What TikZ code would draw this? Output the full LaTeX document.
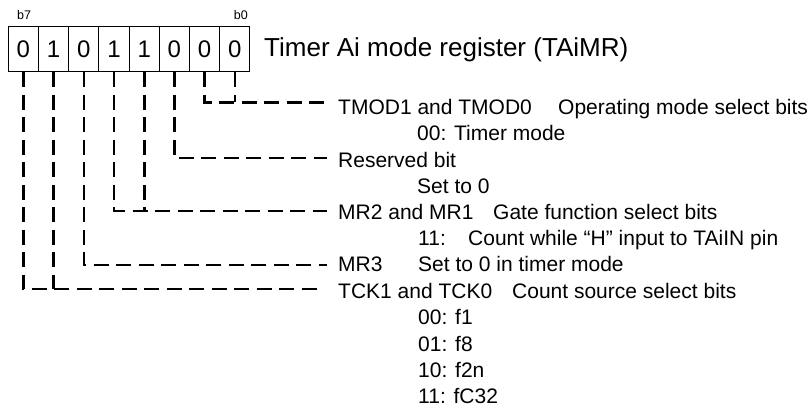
\documentclass[tikz,border=0pt]{standalone}
\usepackage{fontspec}
\setmainfont{Liberation Sans}
\begin{document}
\begin{tikzpicture}[x=1pt,y=-1pt,
  cell/.style={draw,line width=1pt,minimum width=30.2pt,minimum height=45pt,inner sep=0pt,
    font=\fontsize{24}{24}\selectfont},
  desc/.style={anchor=base west,inner sep=0pt,font=\fontsize{21}{21}\selectfont},
  bitlbl/.style={inner sep=0pt,font=\fontsize{12.5}{12.5}\selectfont},
  dl/.style={line width=2.6pt,dash pattern=on 15pt off 7.5pt}]
\useasboundingbox (0,0) rectangle (812,409);
\foreach \i/\v in {7/0,6/1,5/0,4/1,3/1,2/0,1/0,0/0} {
  \node[cell] (c\i) at ({8.3+(7-\i+0.5)*30.2},49.2) {\v};
}
\node[bitlbl,anchor=base west] (b7) at (17,19.5) {b7};
\node[bitlbl,anchor=base east] (b0) at (248,19.5) {b0};
\node[anchor=base west,inner sep=0pt,font=\fontsize{26}{26}\selectfont] (title) at (264,57) {Timer Ai mode register (TAiMR)};

% descriptions
\node[desc] (tmod) at (338,115) {TMOD1 and TMOD0};
\node[desc] (tmodd) at (558,115) {Operating mode select bits};
\node[desc] (tmodv) at (417,141) {00: Timer mode};
\node[desc] (res) at (338,167.5) {Reserved bit};
\node[desc] (resv) at (417,193.5) {Set to 0};
\node[desc] (mr) at (338,219.5) {MR2 and MR1};
\node[desc] (mrd) at (493,219.5) {Gate function select bits};
\node[desc] (mrv) at (418,246) {11:};
\node[desc] (mrvd) at (468,246) {Count while “H” input to TAiIN pin};
\node[desc] (mr3) at (338,272) {MR3};
\node[desc] (mr3d) at (418,272) {Set to 0 in timer mode};
\node[desc] (tck) at (338,298.5) {TCK1 and TCK0};
\node[desc] (tckd) at (512,298.5) {Count source select bits};
\node[desc] (tck0) at (418,324.5) {00: f1};
\node[desc] (tck1) at (418,351) {01: f8};
\node[desc] (tck2) at (418,377) {10: f2n};
\node[desc] (tck3) at (418,403) {11: fC32};

% line ends
\coordinate (e1) at (324,102.5);
\coordinate (e2) at (327,158);
\coordinate (e3) at (327,211);
\coordinate (e4) at (327,265);
\coordinate (e5) at (320,289);

\draw[dl] (c1.south) |- (e1);
\draw[dl] (c0.south) -- (c0.south |- e1);
\draw[dl] (c2.south) |- (e2);
\draw[dl] (c4.south) |- (e3);
\draw[dl] (c3.south) -- (c3.south |- e3);
\draw[dl] (c5.south) |- (e4);
\draw[dl] (c7.south) |- (e5);
\draw[dl] (c6.south) -- (c6.south |- e5);
\end{tikzpicture}
\end{document}
